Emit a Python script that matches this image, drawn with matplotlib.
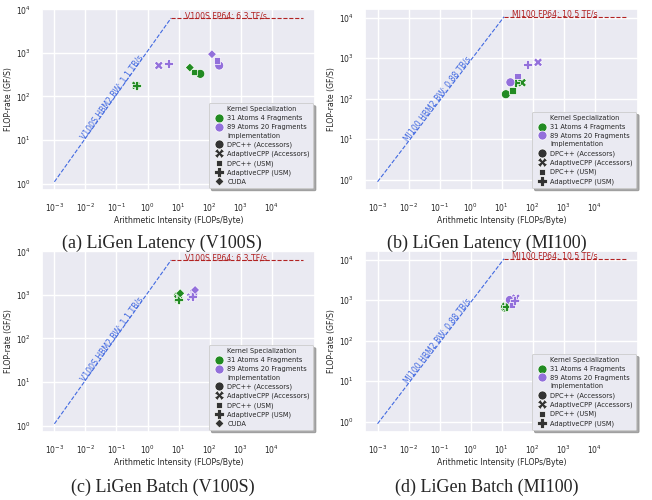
import numpy as np
import pandas as pd
import matplotlib
matplotlib.use("Agg")
import matplotlib.pyplot as plt
import seaborn as sns

specs = ["31 Atoms 4 Fragments", "89 Atoms 20 Fragments"]
impls = ["DPC++ (Accessors)", "AdaptiveCPP (Accessors)", "DPC++ (USM)",
         "AdaptiveCPP (USM)", "CUDA"]

# device rooflines: peak GF/s, bandwidth GB/s
v100_peak, v100_bw = 6300.0, 1100.0
mi100_peak, mi100_bw = 10500.0, 880.0

# values follow the order of impls (MI100 has no CUDA)
lat_v100_ai_31 = [50, 0.42, 30.7, 0.43, 23]
lat_v100_gf_31 = [331, 180, 369, 175, 462]
lat_v100_ai_89 = [204, 2.3, 173, 4.85, 119]
lat_v100_gf_89 = [514, 514, 668, 562, 936]

lat_mi100_ai_31 = [13.6, 45, 22.5, 28]
lat_mi100_gf_31 = [128, 247, 157, 250]
lat_mi100_ai_89 = [19, 148, 32, 68]
lat_mi100_gf_89 = [252, 784, 361, 700]

bat_v100_ai_31 = [9.6, 9.5, 10.2, 9.7, 11.3]
bat_v100_gf_31 = [950, 820, 880, 781, 1090]
bat_v100_ai_89 = [31, 24.5, 30, 27.5, 34]
bat_v100_gf_89 = [1150, 890, 1050, 912, 1300]

bat_mi100_ai_31 = [12.6, 13.5, 15, 14]
bat_mi100_gf_31 = [655, 700, 760, 690]
bat_mi100_ai_89 = [18.3, 28.5, 21.7, 25]
bat_mi100_gf_89 = [1010, 1115, 760, 950]

captions = ["(a) LiGen Latency (V100S)", "(b) LiGen Latency (MI100)",
            "(c) LiGen Batch (V100S)", "(d) LiGen Batch (MI100)"]

palette = {specs[0]: "forestgreen", specs[1]: "mediumpurple"}
# seaborn's default style markers: circle, X, square, plus, diamond
markers = dict(zip(impls, ["o", "X", (4, 0, 45), "P", (4, 0, 0)]))


def make_frame(ai_31, gf_31, ai_89, gf_89):
    n = len(ai_31)
    return pd.DataFrame({
        "ai": ai_31 + ai_89,
        "gf": gf_31 + gf_89,
        "Kernel Specialization": [specs[0]] * n + [specs[1]] * n,
        "Implementation": impls[:n] * 2,
    })


def draw_panel(ax, df, name, peak, bw, caption_xy, caption):
    ridge = peak / bw
    ax.plot([1e-3, ridge], [1e-3 * bw, peak], ls="--", lw=0.8, color="royalblue", zorder=2)
    ax.plot([ridge, 1e5], [peak, peak], ls="--", lw=0.8, color="firebrick", zorder=2)
    n_impl = df["Implementation"].nunique()
    sns.scatterplot(data=df, x="ai", y="gf", hue="Kernel Specialization",
                    style="Implementation", hue_order=specs, style_order=impls[:n_impl],
                    palette=palette, markers=markers, s=42, ax=ax, zorder=3)
    ax.set_xscale("log")
    ax.set_yscale("log")
    ax.set_xticks([10.0 ** k for k in range(-3, 5)])
    ax.set_yticks([10.0 ** k for k in range(0, 5)])
    ax.xaxis.set_minor_locator(matplotlib.ticker.NullLocator())
    ax.yaxis.set_minor_locator(matplotlib.ticker.NullLocator())
    lo, hi = ax.get_ylim()
    ax.set_ylim(lo, max(hi, 10 ** 4.02))
    ax.tick_params(labelsize=5.5, pad=2)
    ax.set_xlabel("Arithmetic Intensity (FLOPs/Byte)", fontsize=5.6, labelpad=2)
    ax.set_ylabel("FLOP-rate (GF/S)", fontsize=5.6, labelpad=2)

    # bandwidth label along the slope
    x0, x1 = 1e-3, ridge
    p0 = ax.transData.transform((x0, x0 * bw))
    p1 = ax.transData.transform((x1, x1 * bw))
    angle = np.degrees(np.arctan2(p1[1] - p0[1], p1[0] - p0[0]))
    tx = 0.0095
    bw_txt = f"{bw / 1000:g}"
    ax.text(tx, tx * bw, f"{name} HBM2 BW: {bw_txt} TB/s", color="royalblue",
            fontsize=5.6, rotation=angle, rotation_mode="anchor",
            ha="left", va="baseline", zorder=2)
    ax.text(ridge + 10, peak, f"{name} FP64: {peak / 1000:g} TF/s", color="firebrick",
            fontsize=5.6, ha="left", va="baseline", zorder=2)

    h, l = ax.get_legend_handles_labels()
    leg = ax.legend(h, l, loc="lower right", fontsize=4.8,
                    shadow={"color": "0.45", "alpha": 0.6}, framealpha=1,
                    borderaxespad=0.3, handletextpad=0.3, labelspacing=0.42,
                    borderpad=0.5, markerscale=1.0)
    leg.get_frame().set_edgecolor("0.8")
    leg.get_frame().set_linewidth(0.6)

    fig.text(caption_xy[0], caption_xy[1], caption, family="Liberation Serif",
             fontsize=13, ha="center", va="center")


sns.set_theme(style="darkgrid")
fig = plt.figure(figsize=(6.52, 5.0), dpi=100)

frames = [
    make_frame(lat_v100_ai_31, lat_v100_gf_31, lat_v100_ai_89, lat_v100_gf_89),
    make_frame(lat_mi100_ai_31, lat_mi100_gf_31, lat_mi100_ai_89, lat_mi100_gf_89),
    make_frame(bat_v100_ai_31, bat_v100_gf_31, bat_v100_ai_89, bat_v100_gf_89),
    make_frame(bat_mi100_ai_31, bat_mi100_gf_31, bat_mi100_ai_89, bat_mi100_gf_89),
]
devices = [("V100S", v100_peak, v100_bw), ("MI100", mi100_peak, mi100_bw)] * 2
rects = [[0.0644, 0.62, 0.419, 0.363], [0.560, 0.62, 0.419, 0.363],
         [0.0644, 0.136, 0.419, 0.363], [0.560, 0.136, 0.419, 0.363]]
caption_pos = [(0.249, 0.513), (0.747, 0.513), (0.249, 0.026), (0.746, 0.026)]

for i in range(4):
    ax = fig.add_axes(rects[i])
    name, peak, bw = devices[i]
    draw_panel(ax, frames[i], name, peak, bw, caption_pos[i], captions[i])

fig.savefig("out.png", dpi=100)
